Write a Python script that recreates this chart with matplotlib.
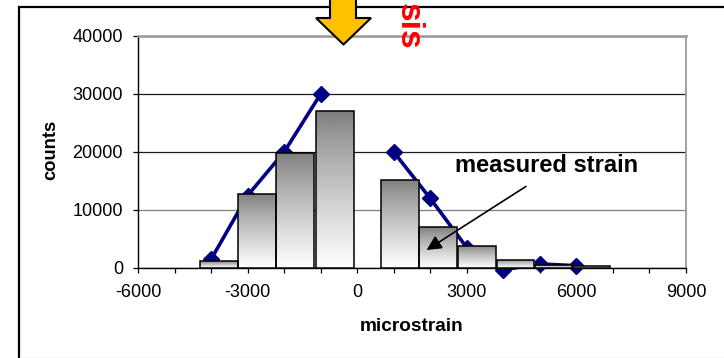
import numpy as np
import matplotlib
matplotlib.use("Agg")
import matplotlib.pyplot as plt
from matplotlib.patches import Polygon, Rectangle
from matplotlib.lines import Line2D
from matplotlib.ticker import MultipleLocator

plt.rcParams['font.family'] = ['Liberation Sans', 'DejaVu Sans']
plt.rcParams['axes.unicode_minus'] = False

# Histogram of measured strain
bin_centers = [-3780, -2755, -1700, -620, 1170, 2225, 3290, 4333, 5387, 6400]
bin_counts = [1200, 12800, 19900, 27000, 15200, 7000, 3800, 1400, 500, 400]
bin_width = 1040

# Calculated strain distribution; the NaN at 0 splits the curve in two branches
calc_strain = [-4000, -3000, -2000, -1000, 0, 1000, 2000, 3000, 4000, 5000, 6000]
calc_counts = [1500, 12500, 20000, 30000, np.nan, 20000, 12000, 3500, -300, 700, 400]

x_ticks = [-6000, -3000, 0, 3000, 6000, 9000]
y_ticks = [0, 10000, 20000, 30000, 40000]

W, H = 724, 358
fig = plt.figure(figsize=(W / 100, H / 100), dpi=100)
ax = fig.add_axes([138 / W, 1 - 268 / H, 548 / W, 232 / H])

# blue curve with diamond markers (behind the bars)
ax.plot(calc_strain, calc_counts, color='#000080', lw=2.6, marker='D', ms=8.5,
        zorder=2, clip_on=False)

# bars with a vertical grey-to-white gradient
grad = (0.48 + 0.52 * np.linspace(0, 1, 256) ** 0.8)[:, None]
bars = ax.bar(bin_centers, bin_counts, width=bin_width, facecolor='none',
              edgecolor='black', linewidth=1.1, zorder=4, clip_on=False)
for b in bars:
    x0, y0 = b.get_x(), b.get_y()
    w, h = b.get_width(), b.get_height()
    im = ax.imshow(grad, cmap='gray', vmin=0, vmax=1, origin='upper',
                   extent=[x0, x0 + w, y0, y0 + h], aspect='auto',
                   interpolation='bilinear', zorder=3)
    im.set_clip_path(b)

ax.set_xlim(x_ticks[0], x_ticks[-1])
ax.set_ylim(y_ticks[0], y_ticks[-1])
ax.set_xticks(x_ticks)
ax.set_yticks(y_ticks)
ax.xaxis.set_minor_locator(MultipleLocator(1000))

ax.yaxis.grid(True, color='#1a1a1a', lw=0.9)
ax.yaxis.get_gridlines()[1].set_color('#808080')

for side, col, lw in [('top', '#999999', 1.8), ('right', '#999999', 1.3),
                      ('left', 'black', 1.0), ('bottom', 'black', 1.0)]:
    ax.spines[side].set_color(col)
    ax.spines[side].set_linewidth(lw)

ax.tick_params(axis='both', which='both', direction='out', length=3.6,
               width=0.9, color='black', labelsize=13)
ax.tick_params(axis='y', pad=7.2)
ax.tick_params(axis='x', which='both', pad=8)

ax.set_xlabel('microstrain', fontsize=13.7, fontweight='bold')
ax.xaxis.set_label_coords(0.5, -0.215)
ax.set_ylabel('counts', fontsize=13.2, fontweight='bold')
ax.yaxis.set_label_coords(-0.144, 0.509)

ax.text(2677, 16517, 'measured strain', fontsize=17, fontweight='bold',
        ha='left', va='baseline', zorder=6)
ax.annotate('', xy=(1900, 3100), xytext=(4620, 14070),
            arrowprops=dict(arrowstyle='-|>', mutation_scale=22, lw=1.2,
                            color='black', shrinkA=0, shrinkB=0),
            zorder=6)


def px(x, y):
    return (x / W, 1 - y / H)


# outer frame
fig.add_artist(Rectangle(px(19, 420), 1.0, (420 - 7) / H, fill=False,
                         edgecolor='black', lw=1.6, transform=fig.transFigure))
fig.add_artist(Line2D([19 / W, 1], [1 - 357.5 / H] * 2, color='#d9d9d9', lw=1,
                      transform=fig.transFigure))

# yellow downward arrow at the top
arrow_pts = [px(330, -5), px(356, -5), px(356, 18), px(371, 18),
             px(343.5, 44.5), px(316, 18), px(330, 18)]
fig.add_artist(Polygon(arrow_pts, closed=True, facecolor='#FFC000',
                       edgecolor='black', lw=1.5, transform=fig.transFigure,
                       zorder=10))

fig.text(400 / W, 1 - 50 / H, 'sis', color='#FF0000', fontsize=24,
         fontweight='bold', rotation=270, rotation_mode='anchor',
         ha='right', va='baseline', zorder=10)

fig.savefig('out.png', dpi=100)
